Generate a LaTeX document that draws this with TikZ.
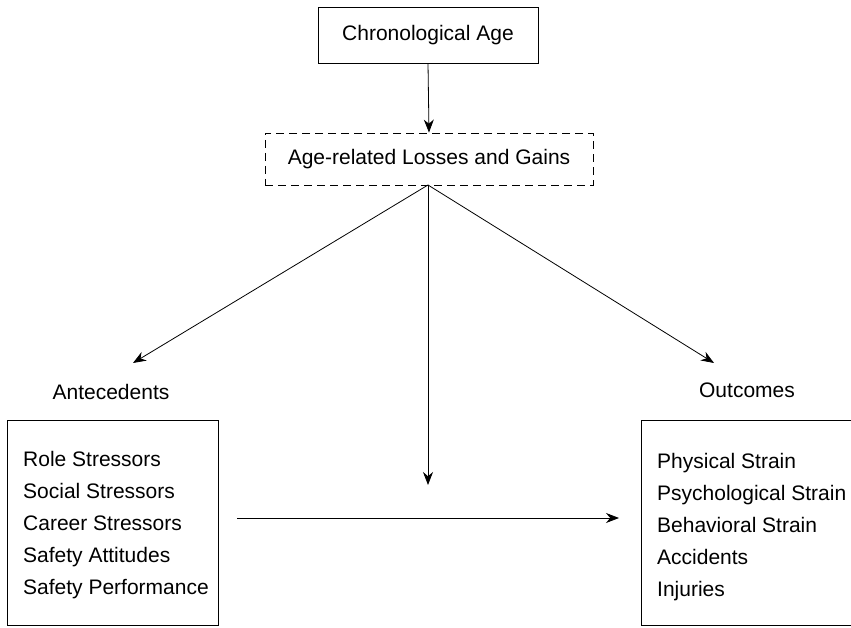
\documentclass[tikz,border=0pt]{standalone}
\usepackage{fontspec}
\setmainfont{Liberation Sans}
\usetikzlibrary{arrows.meta}

\tikzset{
	plainbox/.style={draw, line width=0.9pt, inner sep=0pt},
	framebox/.style={draw, line width=0.9pt, anchor=north west, minimum height=205pt},
	listtext/.style={anchor=west, align=left, inner sep=0pt},
	link/.style={line width=0.8pt, -{Stealth[length=13pt, width=10pt]}}
}

\begin{document}
\begin{tikzpicture}[x=1pt, y=-1pt, font=\fontsize{21}{32}\selectfont]
		\path[use as bounding box, clip] (0,0) rectangle (851,628);
		\node[plainbox, minimum width=220pt, minimum height=56pt] (age) at (428,35) {Chronological Age};
		\node[plainbox, dash pattern=on 8pt off 5pt, minimum width=328pt, minimum height=52pt] (gains) at (429,159) {Age-related Losses and Gains};
		\node (antelabel) at (111,392) {Antecedents};
		\node (outlabel) at (747,390) {Outcomes};
		\node[framebox, minimum width=211pt] (antebox) at (7,420) {};
		\node[framebox, minimum width=240pt] (outbox) at (641,420) {};
		\node[listtext] (antelist) at ([xshift=16pt, yshift=-2pt]antebox.west) {Role Stressors\\Social Stressors\\Career Stressors\\Safety Attitudes\\Safety Performance};
		\node[listtext] (outlist) at ([xshift=16pt, yshift=-4pt]outbox.west) {Physical Strain\\Psychological Strain\\Behavioral Strain\\Accidents\\Injuries};
		\coordinate (apex) at (428,185);
		\coordinate (lefttip) at (133,363);
		\coordinate (righttip) at (714,363);
		\coordinate (midtip) at (428,485);
		\coordinate (hstart) at (237,518);
		\coordinate (hend) at (619,518);
		\draw[link] (age.south) -- (gains.north);
		\draw[link] (apex) -- (lefttip);
		\draw[link] (apex) -- (righttip);
		\draw[link] (apex) -- (midtip);
		\draw[link] (hstart) -- (hend);
	\end{tikzpicture}
\end{document}
